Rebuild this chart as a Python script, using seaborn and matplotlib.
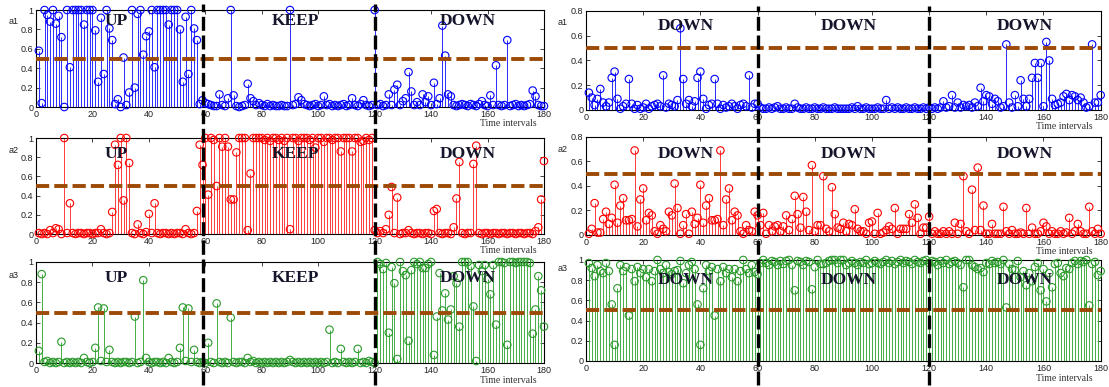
import numpy as np
import pandas as pd
import matplotlib
matplotlib.use("Agg")
import matplotlib.pyplot as plt
import matplotlib.transforms as mtransforms
from matplotlib.lines import Line2D
import seaborn as sns

# time index shared by every panel
t = np.arange(1, 181)

# ---- left figure: a1 / a2 / a3 ----
left_a1 = [
    0.58, 0.04, 1.0, 0.95, 0.88, 1.0, 0.86, 0.94, 0.72, 0.0,
    1.0, 0.41, 1.0, 1.0, 1.0, 1.0, 0.85, 1.0, 1.0, 1.0,
    0.79, 0.26, 0.92, 0.34, 1.0, 0.81, 0.69, 0.03, 0.08, 0.0,
    0.51, 0.02, 0.15, 1.0, 0.2, 0.96, 1.0, 0.54, 0.73, 0.78,
    1.0, 0.41, 1.0, 1.0, 1.0, 1.0, 0.85, 1.0, 1.0, 1.0,
    0.8, 0.26, 0.93, 0.34, 1.0, 0.81, 0.69, 0.03, 0.07, 0.04,
    0.03, 0.02, 0.01, 0.01, 0.13, 0.02, 0.01, 0.09, 1.0, 0.12,
    0.01, 0.0, 0.01, 0.02, 0.24, 0.09, 0.06, 0.02, 0.04, 0.02,
    0.01, 0.03, 0.01, 0.02, 0.01, 0.01, 0.02, 0.01, 0.01, 1.0,
    0.02, 0.03, 0.1, 0.07, 0.03, 0.02, 0.01, 0.02, 0.03, 0.01,
    0.02, 0.11, 0.02, 0.03, 0.01, 0.02, 0.01, 0.02, 0.03, 0.01,
    0.02, 0.09, 0.02, 0.01, 0.03, 0.07, 0.02, 0.01, 0.02, 1.0,
    0.02, 0.03, 0.01, 0.02, 0.13, 0.02, 0.18, 0.23, 0.02, 0.06,
    0.09, 0.36, 0.16, 0.02, 0.05, 0.02, 0.13, 0.05, 0.11, 0.02,
    0.25, 0.03, 0.09, 0.84, 0.53, 0.13, 0.11, 0.02, 0.01, 0.02,
    0.03, 0.02, 0.01, 0.03, 0.02, 0.01, 0.03, 0.06, 0.02, 0.01,
    0.12, 0.02, 0.43, 0.02, 0.01, 0.02, 0.69, 0.01, 0.02, 0.03,
    0.01, 0.02, 0.01, 0.02, 0.03, 0.17, 0.11, 0.02, 0.01, 0.01,
]
left_a2 = [
    0.01, 0.0, 0.01, 0.0, 0.04, 0.01, 0.06, 0.05, 0.0, 1.0,
    0.01, 0.32, 0.01, 0.0, 0.01, 0.01, 0.0, 0.01, 0.01, 0.0,
    0.01, 0.01, 0.05, 0.01, 0.0, 0.01, 0.23, 0.93, 0.72, 1.0,
    0.35, 1.0, 0.74, 0.01, 0.0, 0.1, 0.01, 0.0, 0.02, 0.21,
    0.01, 0.32, 0.01, 0.0, 0.01, 0.01, 0.0, 0.01, 0.0, 0.01,
    0.01, 0.0, 0.05, 0.01, 0.0, 0.01, 0.24, 0.93, 0.72, 1.0,
    0.41, 1.0, 0.98, 0.5, 1.0, 0.91, 1.0, 0.91, 0.36, 0.36,
    0.85, 1.0, 1.0, 1.0, 0.04, 0.63, 1.0, 1.0, 1.0, 1.0,
    0.98, 1.0, 0.97, 1.0, 1.0, 0.98, 1.0, 0.97, 1.0, 0.05,
    1.0, 1.0, 0.97, 1.0, 1.0, 1.0, 0.98, 1.0, 0.9, 1.0,
    1.0, 0.96, 1.0, 1.0, 0.98, 1.0, 1.0, 0.86, 1.0, 1.0,
    1.0, 0.86, 1.0, 1.0, 0.96, 0.97, 1.0, 0.98, 1.0, 0.04,
    0.01, 0.03, 0.01, 0.05, 0.2, 0.49, 0.01, 0.38, 0.0, 0.01,
    0.01, 0.04, 0.01, 0.0, 0.01, 0.01, 0.0, 0.01, 0.01, 0.0,
    0.24, 0.26, 0.01, 0.0, 0.01, 0.01, 0.0, 0.07, 0.37, 0.75,
    0.01, 0.0, 0.01, 0.01, 0.73, 0.92, 0.01, 0.0, 0.01, 0.01,
    0.0, 0.01, 0.01, 0.0, 0.01, 0.01, 0.0, 0.01, 0.01, 0.0,
    0.01, 0.01, 0.0, 0.01, 0.01, 0.0, 0.03, 0.07, 0.36, 0.76,
]
left_a3 = [
    0.12, 0.88, 0.01, 0.02, 0.0, 0.01, 0.0, 0.01, 0.21, 0.0,
    0.01, 0.0, 0.01, 0.0, 0.01, 0.0, 0.05, 0.01, 0.0, 0.01,
    0.15, 0.55, 0.02, 0.54, 0.01, 0.13, 0.01, 0.0, 0.01, 0.0,
    0.01, 0.01, 0.0, 0.01, 0.46, 0.0, 0.01, 0.82, 0.05, 0.01,
    0.0, 0.01, 0.01, 0.0, 0.01, 0.0, 0.05, 0.01, 0.0, 0.01,
    0.15, 0.55, 0.02, 0.54, 0.01, 0.13, 0.01, 0.0, 0.01, 0.0,
    0.2, 0.01, 0.0, 0.59, 0.01, 0.0, 0.01, 0.0, 0.45, 0.01,
    0.0, 0.01, 0.01, 0.0, 0.05, 0.01, 0.02, 0.0, 0.01, 0.0,
    0.01, 0.0, 0.01, 0.0, 0.01, 0.0, 0.01, 0.0, 0.01, 0.03,
    0.01, 0.0, 0.01, 0.0, 0.01, 0.0, 0.01, 0.0, 0.01, 0.0,
    0.01, 0.0, 0.01, 0.33, 0.0, 0.01, 0.0, 0.14, 0.01, 0.0,
    0.01, 0.0, 0.01, 0.14, 0.0, 0.01, 0.0, 0.02, 0.01, 0.0,
    1.0, 0.98, 0.93, 0.99, 0.3, 0.95, 0.79, 0.04, 1.0, 0.91,
    0.87, 0.22, 0.92, 1.0, 0.98, 1.0, 0.94, 0.94, 0.98, 1.0,
    0.08, 0.46, 0.89, 0.52, 0.69, 0.43, 0.53, 0.86, 0.79, 0.36,
    1.0, 1.0, 1.0, 0.96, 0.56, 0.02, 0.97, 0.91, 0.97, 0.83,
    0.68, 0.97, 0.38, 1.0, 1.0, 0.99, 0.18, 1.0, 1.0, 0.99,
    1.0, 1.0, 1.0, 1.0, 0.99, 0.29, 0.53, 0.86, 0.72, 0.36,
]

# ---- right figure: a1 / a2 / a3 ----
right_a1 = [
    0.14, 0.1, 0.04, 0.09, 0.17, 0.06, 0.03, 0.06, 0.26, 0.31,
    0.09, 0.01, 0.03, 0.05, 0.25, 0.05, 0.01, 0.04, 0.01, 0.02,
    0.05, 0.01, 0.03, 0.04, 0.05, 0.03, 0.28, 0.02, 0.05, 0.04,
    0.03, 0.08, 0.66, 0.25, 0.05, 0.08, 0.03, 0.07, 0.26, 0.31,
    0.09, 0.01, 0.04, 0.05, 0.25, 0.05, 0.01, 0.04, 0.02, 0.03,
    0.05, 0.03, 0.01, 0.04, 0.05, 0.03, 0.28, 0.02, 0.05, 0.05,
    0.02, 0.01, 0.01, 0.02, 0.01, 0.02, 0.03, 0.01, 0.01, 0.02,
    0.01, 0.01, 0.05, 0.02, 0.01, 0.01, 0.02, 0.01, 0.01, 0.02,
    0.01, 0.01, 0.02, 0.01, 0.01, 0.01, 0.02, 0.01, 0.01, 0.01,
    0.01, 0.01, 0.02, 0.01, 0.03, 0.01, 0.01, 0.02, 0.01, 0.01,
    0.01, 0.02, 0.01, 0.01, 0.08, 0.01, 0.02, 0.01, 0.02, 0.01,
    0.01, 0.02, 0.01, 0.01, 0.02, 0.01, 0.01, 0.02, 0.01, 0.02,
    0.01, 0.02, 0.01, 0.02, 0.07, 0.02, 0.03, 0.12, 0.02, 0.06,
    0.02, 0.04, 0.03, 0.04, 0.02, 0.06, 0.03, 0.18, 0.07, 0.12,
    0.11, 0.05, 0.09, 0.07, 0.02, 0.03, 0.53, 0.06, 0.02, 0.12,
    0.03, 0.24, 0.09, 0.03, 0.09, 0.26, 0.38, 0.26, 0.38, 0.03,
    0.55, 0.4, 0.09, 0.04, 0.05, 0.06, 0.11, 0.13, 0.08, 0.12,
    0.11, 0.08, 0.1, 0.06, 0.02, 0.03, 0.53, 0.06, 0.06, 0.12,
]
right_a2 = [
    0.01, 0.05, 0.26, 0.02, 0.02, 0.13, 0.19, 0.09, 0.14, 0.41,
    0.1, 0.24, 0.3, 0.12, 0.12, 0.13, 0.69, 0.07, 0.29, 0.38,
    0.12, 0.18, 0.16, 0.03, 0.01, 0.08, 0.05, 0.03, 0.19, 0.16,
    0.42, 0.22, 0.01, 0.08, 0.17, 0.01, 0.19, 0.09, 0.14, 0.41,
    0.1, 0.24, 0.3, 0.12, 0.12, 0.13, 0.69, 0.08, 0.29, 0.38,
    0.12, 0.19, 0.16, 0.03, 0.01, 0.08, 0.04, 0.03, 0.19, 0.16,
    0.08, 0.18, 0.01, 0.08, 0.03, 0.07, 0.08, 0.03, 0.07, 0.16,
    0.04, 0.13, 0.32, 0.17, 0.06, 0.31, 0.19, 0.04, 0.57, 0.03,
    0.08, 0.08, 0.48, 0.05, 0.03, 0.39, 0.17, 0.06, 0.05, 0.1,
    0.03, 0.09, 0.08, 0.21, 0.05, 0.03, 0.03, 0.01, 0.1, 0.11,
    0.01, 0.18, 0.01, 0.02, 0.04, 0.07, 0.05, 0.22, 0.01, 0.05,
    0.05, 0.05, 0.17, 0.1, 0.25, 0.14, 0.01, 0.06, 0.06, 0.15,
    0.01, 0.03, 0.01, 0.01, 0.03, 0.01, 0.03, 0.01, 0.1, 0.01,
    0.09, 0.48, 0.03, 0.01, 0.37, 0.04, 0.55, 0.04, 0.24, 0.01,
    0.01, 0.09, 0.01, 0.01, 0.01, 0.23, 0.03, 0.01, 0.04, 0.01,
    0.01, 0.02, 0.01, 0.22, 0.01, 0.06, 0.01, 0.01, 0.03, 0.1,
    0.07, 0.01, 0.03, 0.01, 0.01, 0.03, 0.01, 0.02, 0.14, 0.01,
    0.03, 0.09, 0.03, 0.01, 0.01, 0.23, 0.03, 0.01, 0.05, 0.01,
]
right_a3 = [
    0.97, 0.92, 0.84, 0.95, 0.89, 0.87, 0.97, 0.89, 0.56, 0.16,
    0.72, 0.95, 0.89, 0.93, 0.45, 0.91, 0.79, 0.93, 0.87, 0.91,
    0.83, 0.91, 0.79, 0.89, 1.0, 0.91, 0.87, 0.95, 0.88, 0.86,
    0.89, 0.9, 0.99, 0.77, 0.87, 0.95, 0.98, 0.91, 0.56, 0.16,
    0.72, 0.95, 0.89, 0.93, 0.45, 0.91, 0.79, 0.93, 0.87, 0.91,
    0.83, 0.91, 0.79, 0.89, 1.0, 0.91, 0.87, 0.95, 0.88, 0.86,
    0.97, 1.0, 0.97, 0.95, 0.99, 0.98, 0.95, 0.99, 0.96, 0.99,
    1.0, 0.95, 0.7, 0.99, 0.98, 0.95, 0.99, 0.98, 0.71, 0.93,
    1.0, 0.96, 0.96, 0.97, 0.99, 1.0, 1.0, 0.97, 1.0, 1.0,
    0.95, 0.97, 0.99, 0.97, 0.95, 0.98, 0.97, 1.0, 0.96, 0.97,
    0.99, 0.97, 0.96, 0.98, 1.0, 0.97, 0.99, 0.96, 0.98, 1.0,
    0.97, 0.99, 0.98, 0.96, 1.0, 0.98, 0.97, 0.99, 1.0, 0.97,
    0.99, 0.98, 0.95, 0.99, 0.97, 1.0, 0.96, 0.98, 0.99, 0.97,
    0.95, 0.73, 1.0, 1.0, 0.95, 0.93, 0.91, 0.92, 0.88, 0.97,
    0.96, 0.99, 0.97, 0.98, 0.96, 1.0, 0.53, 0.96, 0.91, 0.9,
    0.99, 0.83, 0.89, 0.75, 0.87, 0.79, 0.93, 0.97, 0.7, 0.91,
    0.59, 0.87, 0.73, 0.96, 0.97, 0.87, 0.84, 0.92, 0.91, 0.97,
    0.99, 0.96, 0.99, 0.98, 1.0, 0.55, 0.96, 0.98, 0.85, 0.89,
]

threshold = 0.5
left_splits = [59, 120]
right_splits = [60, 120]
left_phases = [(28.5, "UP"), (92, "KEEP"), (153, "DOWN")]
right_phases = [(35, "DOWN"), (92, "DOWN"), (153.5, "DOWN")]

for arr in (left_a1, left_a2, left_a3, right_a1, right_a2, right_a3):
    assert len(arr) == len(t)

sns.set_theme(style="white", rc={
    "xtick.direction": "in", "ytick.direction": "in",
    "xtick.top": True, "ytick.right": True,
    "xtick.major.size": 3, "ytick.major.size": 3,
    "xtick.major.width": 0.6, "ytick.major.width": 0.6,
    "axes.edgecolor": "black", "axes.linewidth": 0.8,
    "xtick.color": "#222222", "ytick.color": "#222222",
    "xtick.bottom": True, "ytick.left": True,
})
plt.rcParams["font.family"] = ["Liberation Sans", "DejaVu Sans"]

fig = plt.figure(figsize=(11.09, 3.87), dpi=100)

BLUE = ("#0000ff", "#2a2aff")
RED = ("#ff0000", "#ff3b3b")
GREEN = ("#2a9a2a", "#45ad45")

panels = [
    # values, colours, axes rect, ymax, ylabel, ylabel y, phases, phase text y, splits
    (left_a1, BLUE, [0.0325, 0.7235, 0.458, 0.2506], 1.0, "a1", 0.88, left_phases, 0.89, left_splits),
    (left_a2, RED, [0.0325, 0.3953, 0.458, 0.2481], 1.0, "a2", 0.875, left_phases, 0.83, left_splits),
    (left_a3, GREEN, [0.0325, 0.0620, 0.458, 0.2610], 1.0, "a3", 0.87, left_phases, 0.84, left_splits),
    (right_a1, BLUE, [0.5284, 0.7158, 0.4641, 0.2558], 0.8, "a1", 0.88, right_phases, 0.68, right_splits),
    (right_a2, RED, [0.5284, 0.3928, 0.4641, 0.2532], 0.8, "a2", 0.87, right_phases, 0.66, right_splits),
    (right_a3, GREEN, [0.5284, 0.0672, 0.4641, 0.2610], 1.0, "a3", 0.92, right_phases, 0.80, right_splits),
]

axes_by_col = {"left": [], "right": []}
for i, (vals, (mcol, scol), rect, ymax, ylab, ylab_y, phases, phase_y, splits) in enumerate(panels):
    ax = fig.add_axes(rect)
    axes_by_col["left" if i < 3 else "right"].append((ax, splits))
    df = pd.DataFrame({"t": t, "v": vals})
    # stems
    ax.vlines(df["t"], 0, df["v"], colors=scol, linewidth=0.7, zorder=2)
    # open circle heads
    sns.scatterplot(data=df, x="t", y="v", ax=ax, marker="o", s=29,
                    linewidth=0.8, legend=False, zorder=3, clip_on=False)
    coll = ax.collections[-1]
    coll.set_facecolor("none")
    coll.set_edgecolor(mcol)
    # threshold
    ax.axhline(threshold, color="#9c4a06", linewidth=2.8,
               dashes=(3.4, 1.3), zorder=4)
    ax.set_xlim(0, 180)
    ax.set_ylim(0, ymax)
    ax.set_xticks(np.arange(0, 181, 20))
    yt = np.round(np.arange(0, ymax + 1e-9, 0.2), 1)
    ax.set_yticks(yt)
    ax.set_yticklabels(["0" if v == 0 else ("1" if v == 1 else f"{v:g}") for v in yt])
    ax.tick_params(labelsize=6.5, pad=2)
    ax.set_xlabel("")
    ax.set_ylabel("")
    for s in ax.spines.values():
        s.set_visible(True)
        s.set_color("black")
    ax.text(-0.045, ylab_y, ylab, transform=ax.transAxes, fontsize=6.5,
            ha="center", va="center", color="#222222")
    ax.text(0.985, -0.17, "Time intervals", transform=ax.transAxes,
            fontsize=7, ha="right", va="center", color="#333333",
            family=["Liberation Serif", "DejaVu Serif"])
    for px, lab in phases:
        ax.text(px, phase_y, lab,
                fontsize=12.5, fontweight="bold", ha="center", va="center",
                color="#14142a", family=["Liberation Serif", "DejaVu Serif"],
                zorder=5)

# vertical phase separators spanning each column of panels
for col, y0, y1 in (("left", 0.005, 0.99), ("right", 0.005, 0.985)):
    ax_ref, splits = axes_by_col[col][0]
    tr = mtransforms.blended_transform_factory(ax_ref.transData, fig.transFigure)
    for xs in splits:
        fig.add_artist(Line2D([xs, xs], [y0, y1], transform=tr, color="black",
                              linewidth=2.4, dashes=(4.2, 1.4), zorder=10))

fig.savefig("out.png", dpi=100, facecolor="white")
